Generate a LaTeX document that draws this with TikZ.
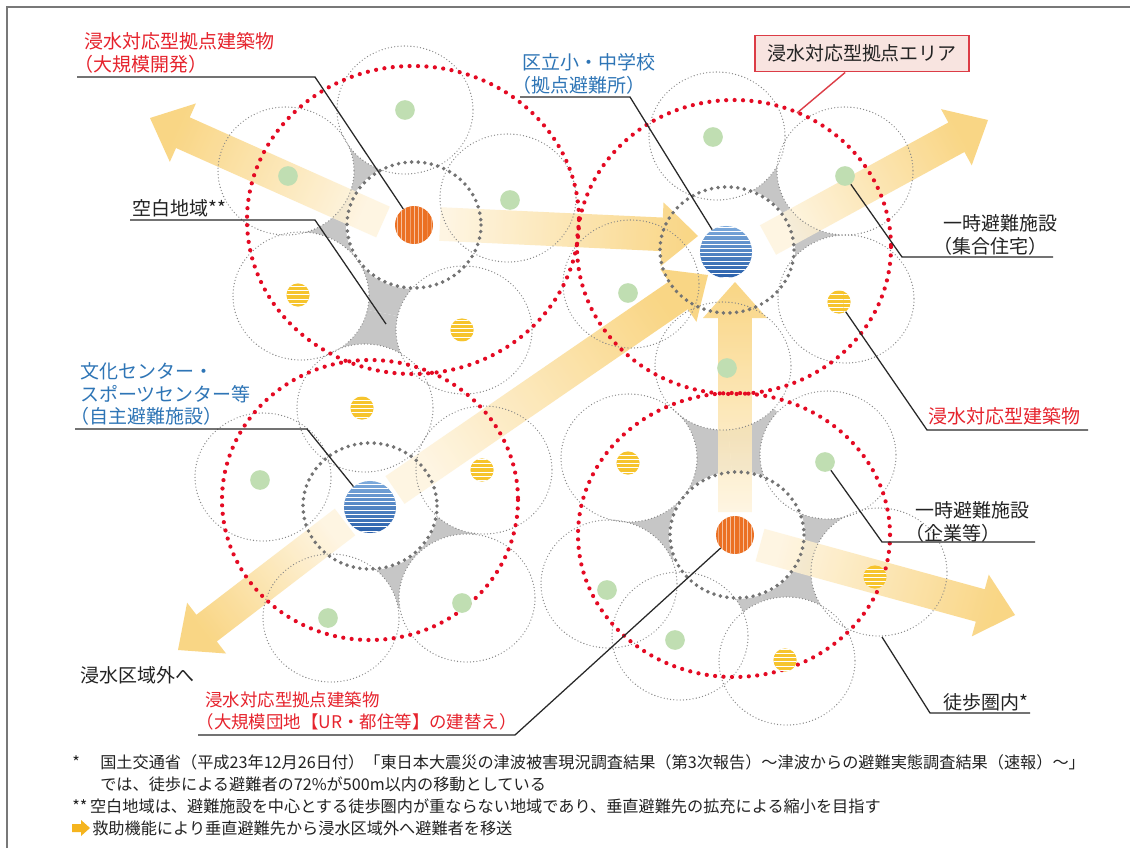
\documentclass[tikz,border=0pt]{standalone}
\usepackage{fontspec}
\setmainfont{Noto Sans CJK JP}
\usetikzlibrary{calc,patterns}

\definecolor{dotred}{RGB}{228,10,35}
\definecolor{hubgray}{RGB}{115,115,115}
\definecolor{ringgray}{RGB}{135,135,135}
\definecolor{gapgray}{RGB}{198,198,198}
\definecolor{framegray}{RGB}{120,120,120}
\definecolor{arrowdeep}{RGB}{249,207,112}
\definecolor{arrowpale}{RGB}{254,244,222}
\definecolor{hubblue}{RGB}{40,95,170}
\definecolor{hubblueL}{RGB}{125,170,220}
\definecolor{hubora}{RGB}{235,112,35}
\definecolor{facyel}{RGB}{246,196,45}
\definecolor{facgrn}{RGB}{192,222,178}
\definecolor{txtblue}{RGB}{46,117,182}
\definecolor{txtred}{RGB}{230,35,45}
\definecolor{txtblack}{RGB}{35,35,35}
\definecolor{leadgray}{RGB}{40,40,40}
\definecolor{boxred}{RGB}{220,60,70}
\definecolor{boxpink}{RGB}{248,228,224}
\definecolor{iconora}{RGB}{245,180,30}

\newcommand\lblfont{\fontsize{13.5}{16.3}\selectfont}
\newcommand\smlblfont{\fontsize{12.4}{15.6}\selectfont}
\newcommand\fnfont{\fontsize{11.5}{14}\selectfont}
\newcommand\lpar{\makebox[0.5em][r]{（}}

\newcommand\fatarrow[3]{%
  \coordinate (hb) at ($(#2)!0.9cm!(#1)$);
  \shade[arrowfill, shading angle=#3]
    ($(#1)!0.42cm!90:(#2)$) -- ($(hb)!0.42cm!90:(#2)$) -- ($(hb)!0.8cm!90:(#2)$) -- (#2)
    -- ($(hb)!0.8cm!-90:(#2)$) -- ($(hb)!0.42cm!-90:(#2)$) -- ($(#1)!0.42cm!-90:(#2)$) -- cycle;}

\begin{document}
\begin{tikzpicture}[x=0.025cm, y=-0.025cm,
    ring/.style={draw=ringgray, line width=0.95pt, dash pattern=on 0pt off 2.3pt, line cap=round},
    hubring/.style={draw=hubgray, line width=2.8pt, dash pattern=on 0pt off 4.7pt, line cap=round},
    zone/.style={draw=dotred, line width=3pt, dash pattern=on 0pt off 6pt, line cap=round},
    arrowfill/.style={left color=arrowpale, right color=arrowdeep, opacity=0.85},
    fac/.style={circle, inner sep=0pt},
    orangefac/.style={fac, minimum size=27pt, preaction={fill=hubora}, pattern=vertical lines, pattern color=white!55!hubora},
    bluefac/.style={fac, minimum size=37pt, preaction={top color=hubblueL, bottom color=hubblue}, pattern=horizontal lines, pattern color=white},
    yelfac/.style={fac, minimum size=16.5pt, preaction={fill=facyel}, pattern=horizontal lines, pattern color=white},
    grnfac/.style={fac, minimum size=14pt, fill=facgrn},
    leader/.style={draw=leadgray, line width=0.9pt},
    lbl/.style={anchor=west, inner sep=0pt, align=left, font=\lblfont, text=txtblack},
    fn/.style={anchor=west, inner sep=0pt, font=\fnfont, text=txtblack}]

  \fill[white] (0,0) rectangle (1130,848);
  \useasboundingbox (0,0) rectangle (1130,848);
  \draw[framegray, line width=0.8pt] (7,848) -- (7,7) -- (1130,7);

  \coordinate (h1) at (414,225);
  \coordinate (h2) at (727,250);
  \coordinate (h3) at (370,506);
  \coordinate (h4) at (737,535);
  \coordinate (c1a) at (405,110);
  \coordinate (c1b) at (286,171);
  \coordinate (c1c) at (508,198);
  \coordinate (c1d) at (301,296);
  \coordinate (c1e) at (464,330);
  \coordinate (c2a) at (717,136);
  \coordinate (c2b) at (845,171);
  \coordinate (c2c) at (846,299);
  \coordinate (c2d) at (631,284);
  \coordinate (c2e) at (723,366);
  \coordinate (c3a) at (365,408);
  \coordinate (c3b) at (263,477);
  \coordinate (c3c) at (484,470);
  \coordinate (c3d) at (331,618);
  \coordinate (c3e) at (467,598);
  \coordinate (c4a) at (629,458);
  \coordinate (c4b) at (828,455);
  \coordinate (c4c) at (879,572);
  \coordinate (c4d) at (787,661);
  \coordinate (c4e) at (680,636);
  \coordinate (c4f) at (609,584);

  \fill[gapgray] (c1b) -- (c1a) -- (h1) -- cycle;
  \fill[gapgray] (c1b) -- (h1) -- (c1d) -- cycle;
  \fill[gapgray] (c1d) -- (h1) -- (c1e) -- cycle;
  \fill[gapgray] (c1d) -- (c1e) -- (c3a) -- cycle;
  \fill[gapgray] (c2a) -- (c2b) -- (h2) -- cycle;
  \fill[gapgray] (c2b) -- (c2c) -- (h2) -- cycle;
  \fill[gapgray] (h3) -- (c3c) -- (c3e) -- cycle;
  \fill[gapgray] (h3) -- (c3e) -- (c3d) -- cycle;
  \fill[gapgray] (c4a) -- (c2e) -- (h4) -- cycle;
  \fill[gapgray] (c2e) -- (c4b) -- (h4) -- cycle;
  \fill[gapgray] (c4b) -- (c4c) -- (h4) -- cycle;
  \fill[gapgray] (h4) -- (c4c) -- (c4d) -- cycle;
  \fill[gapgray] (c4a) -- (h4) -- (c4f) -- cycle;
  \fill[gapgray] (h4) -- (c4e) -- (c4d) -- cycle;

  \foreach \c in {c1a,c1b,c1c,c1d,c1e,c2a,c2b,c2c,c2d,c2e,c3a,c3b,c3c,c3d,c3e,c4a,c4b,c4c,c4d,c4e,c4f,h1,h2,h3,h4}
    \fill[white] (\c) ellipse [x radius=68, y radius=64];

  \coordinate (wS) at (383,222);  \coordinate (wT) at (150,118);
  \coordinate (eS) at (440,224);  \coordinate (eT) at (698,236);
  \coordinate (neS) at (768,240); \coordinate (neT) at (988,120);
  \coordinate (dS) at (395,490);  \coordinate (dT) at (708,275);
  \coordinate (swS) at (345,522); \coordinate (swT) at (178,650);
  \coordinate (nS) at (735,512);  \coordinate (nT) at (735,282);
  \coordinate (seS) at (760,545); \coordinate (seT) at (1015,615);
  \fatarrow{wS}{wT}{246}
  \fatarrow{eS}{eT}{87}
  \fatarrow{neS}{neT}{119}
  \fatarrow{dS}{dT}{125}
  \fatarrow{swS}{swT}{308}
  \fatarrow{nS}{nT}{180}
  \fatarrow{seS}{seT}{75}

  \foreach \c in {c1a,c1b,c1c,c1d,c1e,c2a,c2b,c2c,c2d,c2e,c3a,c3b,c3c,c3d,c3e,c4a,c4b,c4c,c4d,c4e,c4f}
    \draw[ring] (\c) ellipse [x radius=68, y radius=64];
  \foreach \c in {h1,h2,h3,h4}
    \draw[hubring] (\c) ellipse [x radius=67, y radius=63];

  \draw[zone] (413,220) ellipse [x radius=166, y radius=154];
  \draw[zone] (734,247) ellipse [x radius=157, y radius=147];
  \draw[zone] (370,500) ellipse [x radius=148, y radius=140];
  \draw[zone] (734,535) ellipse [x radius=156, y radius=142];

  \node[orangefac] (fA) at (414,225) {};
  \node[orangefac] (fD) at (735,535) {};
  \node[bluefac] (fB) at (726,252) {};
  \node[bluefac] (fC) at (370,507) {};
  \foreach \n/\p in {y1d/{298,295}, y1e/{462,330}, y3a/{362,408}, y3c/{482,470},
                     y4a/{628,463}, y2c/{839,302}, y4c/{875,577}, y4d/{785,660}}
    \node[yelfac] (\n) at (\p) {};
  \foreach \n/\p in {g1a/{405,110}, g1b/{288,176}, g1c/{510,200}, g2a/{713,137},
                     g2b/{845,176}, g2d/{628,293}, g2e/{727,368}, g3b/{260,480},
                     g3d/{328,618}, g3e/{462,603}, g4b/{825,462}, g4f/{607,590}, g4e/{675,640}}
    \node[grnfac] (\n) at (\p) {};

  \node[lbl, text=txtred] (lbBig) at (84,52.5) {浸水対応型拠点建築物\\\lpar 大規模開発）};
  \coordinate (uBig) at (77,77);  \coordinate (kBig) at (315,77);
  \draw[leader] (uBig) -- (kBig) -- (fA);

  \node[lbl, text=txtblue] (lbSchool) at (522,73.5) {区立小・中学校\\\lpar 拠点避難所）};
  \coordinate (uSchool) at (520,97);  \coordinate (kSchool) at (630,97);
  \draw[leader] (uSchool) -- (kSchool) -- (fB);

  \node[draw=boxred, fill=boxpink, line width=1pt, minimum width=152pt, minimum height=26pt,
        inner sep=0pt, font=\lblfont, text=txtblack] (area) at (862,53.5) {浸水対応型拠点エリア};
  \coordinate (areaTip) at (797,113);
  \draw[draw=boxred, line width=1pt] ([xshift=-12pt]area.south) -- (areaTip);

  \node[lbl] (lbGap) at (132,208) {空白地域**};
  \coordinate (uGap) at (130,220);  \coordinate (kGap) at (315,220);
  \coordinate (gapPt) at (386,324);
  \draw[leader] (uGap) -- (kGap) -- (gapPt);

  \node[lbl] (lbHouse) at (943,234.5) {一時避難施設\\\lpar 集合住宅）};
  \coordinate (uHouse) at (1053,257);  \coordinate (kHouse) at (902,257);
  \draw[leader] (uHouse) -- (kHouse) -- (g2b);

  \node[lbl, text=txtred] (lbFlood) at (928,416) {浸水対応型建築物};
  \coordinate (uFlood) at (1088,430);  \coordinate (kFlood) at (927,430);
  \draw[leader] (uFlood) -- (kFlood) -- (y2c);

  \node[lbl, text=txtblue] (lbCult) at (80,394) {文化センター・\\スポーツセンター等\\\lpar 自主避難施設）};
  \coordinate (uCult) at (75,429);  \coordinate (kCult) at (307,429);
  \draw[leader] (uCult) -- (kCult) -- (fC);

  \node[lbl] (lbFirm) at (915,521.5) {一時避難施設\\\lpar 企業等）};
  \coordinate (uFirm) at (1035,542);  \coordinate (kFirm) at (882,542);
  \draw[leader] (uFirm) -- (kFirm) -- (g4b);

  \node[lbl] (lbWalk) at (943,702) {徒歩圏内*};
  \coordinate (uWalk) at (1030,713);  \coordinate (kWalk) at (930,713);
  \coordinate (walkPt) at (882,637);
  \draw[leader] (uWalk) -- (kWalk) -- (walkPt);

  \node[lbl] (lbOut) at (80,675) {浸水区域外へ};

  \node[lbl, text=txtred, font=\smlblfont] (lbDanchi) at (205,711) {浸水対応型拠点建築物\\\lpar 大規模団地【UR・都住等】の建替え）};
  \coordinate (uDanchi) at (198,735);  \coordinate (kDanchi) at (515,735);
  \draw[leader] (uDanchi) -- (kDanchi) -- (fD);

  \node[fn] (fnMark) at (72,762) {*};
  \node[fn] (fnSrc) at (100,762) {国土交通省（平成23年12月26日付）「東日本大震災の津波被害現況調査結果（第3次報告）～津波からの避難実態調査結果（速報）～」};
  \node[fn] (fnSrc2) at (100,784) {では、徒歩による避難者の72\%が500m以内の移動としている};
  \node[fn] (fnGap) at (72,806) {**\,空白地域は、避難施設を中心とする徒歩圏内が重ならない地域であり、垂直避難先の拡充による縮小を目指す};
  \fill[iconora] (72,824) -- (81,824) -- (81,820) -- (90,828) -- (81,836) -- (81,832) -- (72,832) -- cycle;
  \node[fn] (fnArrow) at (92,828) {救助機能により垂直避難先から浸水区域外へ避難者を移送};
\end{tikzpicture}
\end{document}
